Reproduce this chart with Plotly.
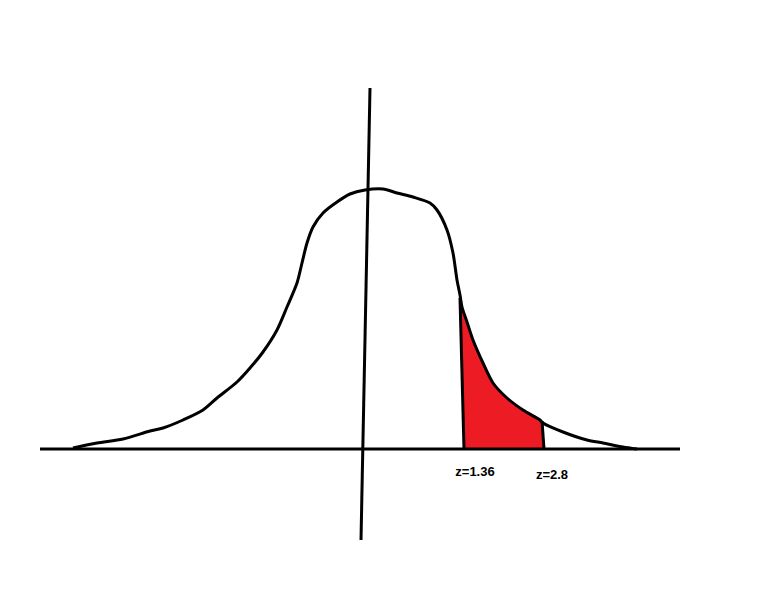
import plotly.graph_objects as go

# Hand-drawn normal curve, traced in picture units (x right, y down)
curve_x = [73, 97, 123, 150, 163, 183, 203, 217, 237, 250, 263, 277, 287, 297, 302, 307, 313, 323, 337, 350, 365,
           383, 397, 413, 430, 437, 447, 453, 457, 460, 462, 467, 473, 483, 493, 507, 523, 540,
           543, 563, 587, 603, 623, 637]
curve_y = [448, 443, 439, 431, 428, 420, 410, 398, 382, 368, 352, 330, 307, 283, 263, 243, 227, 213, 202, 194, 190,
           189, 193, 197, 203, 210, 230, 253, 280, 295, 307, 322, 340, 363, 383, 398, 410, 420,
           423, 432, 440, 443, 447, 449]

baseline_y = 449
axis_x = [40, 680]
vaxis_x = [370, 361]
vaxis_y = [88, 540]

left_edge_x = [460, 464]
left_edge_y = [298, 449]
right_edge_x = [542, 544]
right_edge_y = [421, 449]

labels = ["z=1.36", "z=2.8"]
label_x = [475, 552]
label_y = [473, 476]

# shaded region from curve between the two edges
sx = [left_edge_x[1], left_edge_x[0]]
sy = [left_edge_y[1], left_edge_y[0]]
for x, y in zip(curve_x, curve_y):
    if left_edge_x[0] < x < right_edge_x[0]:
        sx.append(x); sy.append(y)
sx += [right_edge_x[0], right_edge_x[1]]
sy += [right_edge_y[0], right_edge_y[1]]

fig = go.Figure()
fig.add_trace(go.Scatter(x=sx, y=sy, fill="toself", fillcolor="#ED1C24", mode="none", hoverinfo="skip"))
line = dict(color="black", width=3)
fig.add_trace(go.Scatter(x=axis_x, y=[baseline_y, baseline_y], mode="lines", line=line))
fig.add_trace(go.Scatter(x=vaxis_x, y=vaxis_y, mode="lines", line=line))
fig.add_trace(go.Scatter(x=curve_x, y=curve_y, mode="lines",
                         line=dict(color="black", width=3, shape="spline", smoothing=0.8)))
fig.add_trace(go.Scatter(x=left_edge_x, y=left_edge_y, mode="lines", line=line))
fig.add_trace(go.Scatter(x=right_edge_x, y=right_edge_y, mode="lines", line=line))
fig.add_trace(go.Scatter(x=label_x, y=label_y, mode="text", text=labels,
                         textfont=dict(family="Liberation Sans", size=13, color="black", weight="bold")))

# page body has an 8px margin, so shift the ranges to keep picture coordinates aligned
fig.update_layout(
    width=772, height=592, margin=dict(l=0, r=0, t=0, b=0),
    showlegend=False, plot_bgcolor="white", paper_bgcolor="white",
    xaxis=dict(range=[8, 780], visible=False, fixedrange=True),
    yaxis=dict(range=[600, 8], visible=False, fixedrange=True),
)
fig.write_html("out.html")
